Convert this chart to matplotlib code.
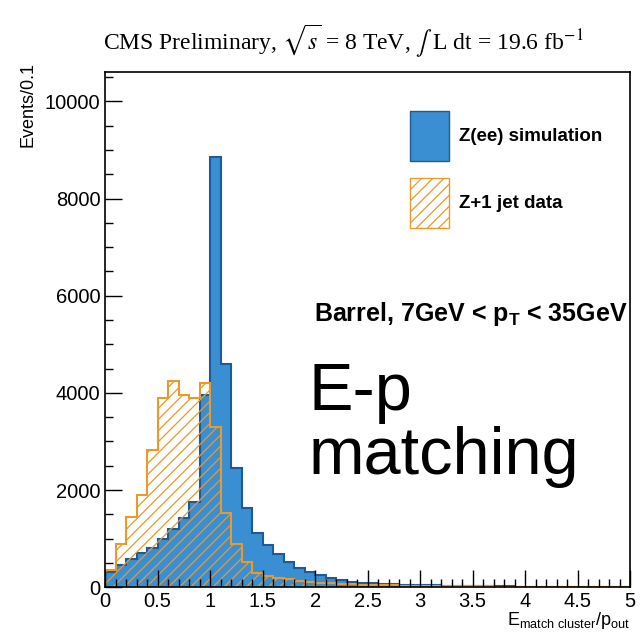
import numpy as np
import matplotlib
matplotlib.use("Agg")
import matplotlib.pyplot as plt
from matplotlib.patches import Patch
from matplotlib.ticker import MultipleLocator, FormatStrFormatter

plt.rcParams["font.family"] = ["Liberation Sans", "DejaVu Sans"]
plt.rcParams["mathtext.fontset"] = "custom"
plt.rcParams["mathtext.rm"] = "Liberation Sans"
plt.rcParams["mathtext.bf"] = "Liberation Sans:bold"
plt.rcParams["hatch.linewidth"] = 0.9

# bin edges: 0 to 5 in steps of 0.1
edges = np.round(np.arange(0, 5.01, 0.1), 2)

# Z(ee) simulation, events per bin
sim = [310, 460, 590, 700, 810, 1000, 1200, 1430, 1760, 3960,
       8850, 4600, 2460, 1640, 1110, 870, 690, 510, 400, 310,
       250, 195, 150, 118, 95, 80, 68, 58, 50, 44,
       40, 36, 32, 28, 25, 22, 20, 18, 16, 14,
       13, 12, 11, 10, 9, 8, 8, 7, 7, 6]

# Z+1 jet data, events per bin
data = [360, 880, 1450, 1900, 2820, 3890, 4250, 3950, 3900, 4200,
        3300, 1520, 900, 510, 300, 230, 190, 160, 130, 110,
        95, 82, 72, 63, 56, 50, 44, 39, 35, 31,
        28, 25, 23, 21, 19, 17, 16, 15, 14, 13,
        12, 11, 10, 10, 9, 9, 8, 8, 7, 7]

blue = "#3a8fd2"
blue_edge = "#1d5a96"
orange = "#e89a2c"

fig = plt.figure(figsize=(6.41, 6.39), dpi=100)
ax = fig.add_axes([0.164, 0.081, 0.819, 0.806])

ax.stairs(sim, edges, fill=True, facecolor=blue, edgecolor=blue_edge, linewidth=1.5)
ax.stairs(data, edges, fill=True, facecolor="none", edgecolor=orange,
          hatch="///", linewidth=1.5)

ax.set_xlim(0, 5)
ax.set_ylim(0, 10600)
ax.xaxis.set_major_locator(MultipleLocator(0.5))
ax.xaxis.set_minor_locator(MultipleLocator(0.1))
ax.xaxis.set_major_formatter(FormatStrFormatter("%g"))
ax.yaxis.set_major_locator(MultipleLocator(2000))
ax.yaxis.set_minor_locator(MultipleLocator(500))
ax.tick_params(which="both", direction="in", labelsize=14.5, width=1)
ax.tick_params(which="major", length=12)
ax.tick_params(which="minor", length=6)
for s in ax.spines.values():
    s.set_linewidth(1.2)

ax.set_ylabel("Events/0.1", fontsize=13, loc="top")
ax.yaxis.set_label_coords(-0.13, 1.02)
ax.set_xlabel(r"E$_{\mathrm{match\ cluster}}$/p$_{\mathrm{out}}$", fontsize=13, loc="right")
ax.xaxis.set_label_coords(1.0, -0.045)

fig.text(0.535, 0.935,
         r"CMS Preliminary, $\sqrt{s}$ = 8 TeV, $\int$ L dt = 19.6 fb$^{-1}$",
         ha="center", va="center", fontsize=17, family="Liberation Serif",
         math_fontfamily="stix")

handles = [Patch(facecolor=blue, edgecolor=blue_edge, label="Z(ee) simulation"),
           Patch(facecolor="none", edgecolor=orange, hatch="///", label="Z+1 jet data")]
ax.legend(handles=handles, loc="upper left", bbox_to_anchor=(0.58, 0.925),
          frameon=False, borderpad=0, borderaxespad=0, handlelength=2.1,
          handleheight=3.7, labelspacing=0.94, handletextpad=0.55,
          prop={"weight": "bold", "size": 13.5})

ax.text(0.995, 0.53, r"Barrel, 7GeV < p$_\mathbf{T}$ < 35GeV", transform=ax.transAxes,
        ha="right", va="center", fontsize=18, fontweight="bold")
ax.text(0.387, 0.345, "E-p", transform=ax.transAxes, ha="left", va="baseline", fontsize=48)
ax.text(0.387, 0.22, "matching", transform=ax.transAxes, ha="left", va="baseline", fontsize=48)

fig.savefig("out.png", dpi=100)
